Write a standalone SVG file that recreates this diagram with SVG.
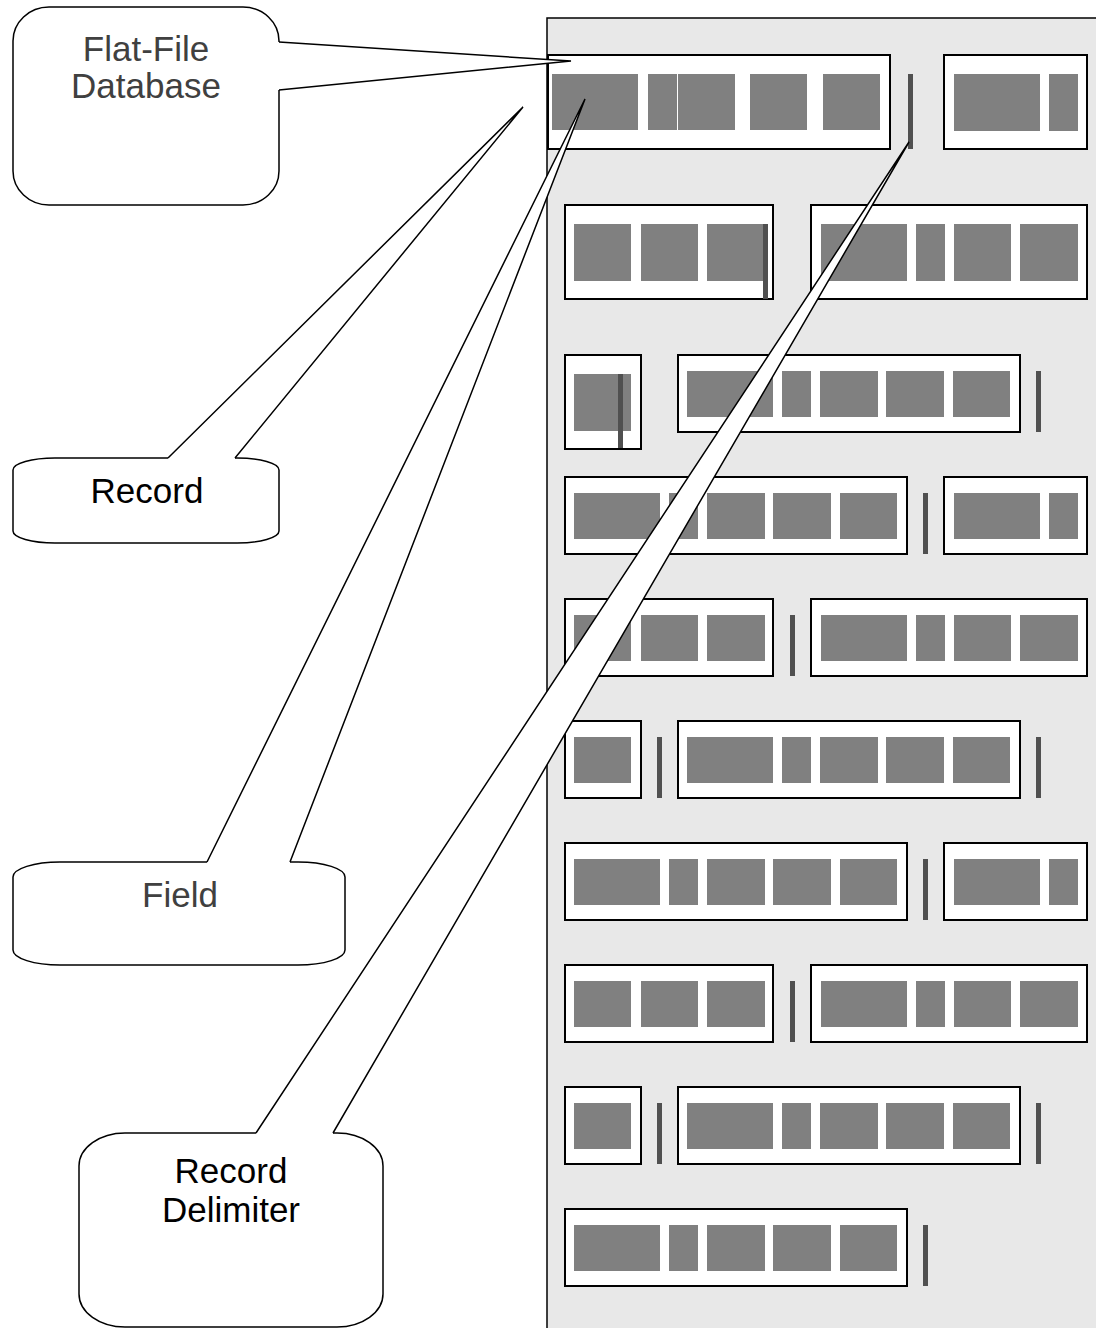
<svg xmlns="http://www.w3.org/2000/svg" width="1096" height="1328" viewBox="0 0 1096 1328">
<style>
.rec{fill:#fff;stroke:#000;stroke-width:2}
.fld{fill:#808080}
.dlm{fill:#505050}
.body{fill:#fff;stroke:#000;stroke-width:1.5}
.wedge{fill:#fff;stroke:none}
.side{fill:none;stroke:#000;stroke-width:1.5;stroke-linejoin:miter}
.lbl{font-family:"Liberation Sans",Arial,sans-serif;font-size:35px;text-anchor:middle}
</style>
<defs>
<g id="L5"><rect class="rec" x="0" y="0" width="342" height="77"/><rect class="fld" x="9" y="16" width="86" height="46"/><rect class="fld" x="104" y="16" width="29" height="46"/><rect class="fld" x="142" y="16" width="58" height="46"/><rect class="fld" x="208" y="16" width="58" height="46"/><rect class="fld" x="275" y="16" width="57" height="46"/></g>
<g id="M3"><rect class="rec" x="0" y="0" width="208" height="77"/><rect class="fld" x="9" y="16" width="57" height="46"/><rect class="fld" x="76" y="16" width="57" height="46"/><rect class="fld" x="142" y="16" width="58" height="46"/></g>
<g id="M4"><rect class="rec" x="0" y="0" width="276" height="77"/><rect class="fld" x="10" y="16" width="86" height="46"/><rect class="fld" x="105" y="16" width="29" height="46"/><rect class="fld" x="143" y="16" width="57" height="46"/><rect class="fld" x="209" y="16" width="58" height="46"/></g>
<g id="S1"><rect class="rec" x="0" y="0" width="76" height="77"/><rect class="fld" x="9" y="16" width="57" height="46"/></g>
<g id="S2"><rect class="rec" x="0" y="0" width="143" height="77"/><rect class="fld" x="10" y="16" width="86" height="46"/><rect class="fld" x="105" y="16" width="29" height="46"/></g>
</defs>
<rect width="1096" height="1328" fill="#fff"/>
<g id="panel"><rect x="547" y="18" width="580" height="1340" fill="#e8e8e8" stroke="#000" stroke-width="1.5"/></g>
<g id="row1">
<g id="rec1a"><rect class="rec" x="548" y="55" width="342" height="94"/><rect class="fld" x="552" y="74" width="86" height="56"/><rect class="fld" x="648" y="74" width="29" height="56"/><rect class="fld" x="678" y="74" width="57" height="56"/><rect class="fld" x="750" y="74" width="57" height="56"/><rect class="fld" x="823" y="74" width="57" height="56"/></g>
<rect class="dlm" x="908" y="74" width="5" height="75"/>
<g id="rec1b"><rect class="rec" x="944" y="55" width="143" height="94"/><rect class="fld" x="954" y="74" width="86" height="57"/><rect class="fld" x="1049" y="74" width="29" height="57"/></g>
</g>
<g id="row2">
<g id="rec2a"><rect class="rec" x="565" y="205" width="208" height="94"/><rect class="fld" x="574" y="224" width="57" height="57"/><rect class="fld" x="641" y="224" width="57" height="57"/><rect class="fld" x="707" y="224" width="57" height="57"/><rect class="dlm" x="763" y="224" width="5" height="75"/></g>
<g id="rec2b"><rect class="rec" x="811" y="205" width="276" height="94"/><rect class="fld" x="821" y="224" width="86" height="57"/><rect class="fld" x="916" y="224" width="29" height="57"/><rect class="fld" x="954" y="224" width="57" height="57"/><rect class="fld" x="1020" y="224" width="58" height="57"/></g>
</g>
<g id="row3">
<g id="rec3a"><rect class="rec" x="565" y="355" width="76" height="94"/><rect class="fld" x="574" y="374" width="57" height="57"/><rect class="dlm" x="618" y="374" width="5" height="74"/></g>
<g id="rec3b"><use href="#L5" x="678" y="355"/></g>
<rect class="dlm" x="1036" y="371" width="5" height="61"/>
</g>
<g id="row4"><use href="#L5" x="565" y="477"/><rect class="dlm" x="923" y="493" width="5" height="61"/><use href="#S2" x="944" y="477"/></g>
<g id="row5"><use href="#M3" x="565" y="599"/><rect class="dlm" x="790" y="615" width="5" height="61"/><use href="#M4" x="811" y="599"/></g>
<g id="row6"><use href="#S1" x="565" y="721"/><rect class="dlm" x="657" y="737" width="5" height="61"/><use href="#L5" x="678" y="721"/><rect class="dlm" x="1036" y="737" width="5" height="61"/></g>
<g id="row7"><use href="#L5" x="565" y="843"/><rect class="dlm" x="923" y="859" width="5" height="61"/><use href="#S2" x="944" y="843"/></g>
<g id="row8"><use href="#M3" x="565" y="965"/><rect class="dlm" x="790" y="981" width="5" height="61"/><use href="#M4" x="811" y="965"/></g>
<g id="row9"><use href="#S1" x="565" y="1087"/><rect class="dlm" x="657" y="1103" width="5" height="61"/><use href="#L5" x="678" y="1087"/><rect class="dlm" x="1036" y="1103" width="5" height="61"/></g>
<g id="row10"><use href="#L5" x="565" y="1209"/><rect class="dlm" x="923" y="1225" width="5" height="61"/></g>
<g id="callout-flatfile"><rect class="body" x="13" y="7" width="266" height="198" rx="36" ry="34"/><text class="lbl" x="146" y="61" fill="#404040">Flat-File</text><text class="lbl" x="146" y="98" fill="#404040">Database</text></g>
<g id="callout-record"><rect class="body" x="13" y="458" width="266" height="85" rx="42" ry="12"/><text class="lbl" x="147" y="503" fill="#000">Record</text></g>
<g id="callout-field"><rect class="body" x="13" y="862" width="332" height="103" rx="47" ry="15"/><text class="lbl" x="180" y="907" fill="#404040">Field</text></g>
<g id="callout-delimiter"><rect class="body" x="79" y="1133" width="304" height="194" rx="46" ry="33"/><text class="lbl" x="231" y="1183" fill="#000">Record</text><text class="lbl" x="231" y="1222" fill="#000">Delimiter</text></g>
<g id="connectors">
<polygon class="wedge" points="279,42 571,61 279,90 275,90 275,42"/>
<polyline class="side" points="279,42 571,61 279,90"/>
<polygon class="wedge" points="168,458 523,107 235,458 235,462 168,462"/>
<polyline class="side" points="168,458 523,107 235,458"/>
<polygon class="wedge" points="207,862 585,99 290,862 290,866 207,866"/>
<polyline class="side" points="207,862 585,99 290,862"/>
<polygon class="wedge" points="256,1133 909,142 333,1133 333,1137 256,1137"/>
<polyline class="side" points="256,1133 909,142 333,1133"/>
</g>
</svg>
